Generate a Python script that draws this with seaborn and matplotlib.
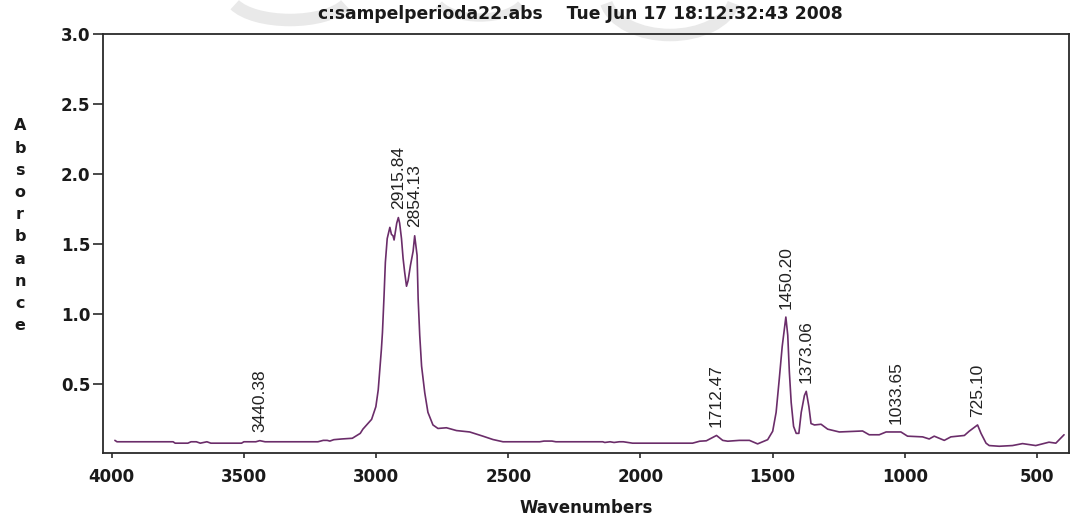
import numpy as np
import matplotlib
matplotlib.use("Agg")
import matplotlib.pyplot as plt
from matplotlib.patches import Arc
import seaborn as sns

# FTIR spectrum: wavenumber (cm^-1) and absorbance
wavenumber = [
    3988, 3980, 3768, 3760, 3712, 3700, 3680, 3665, 3640, 3625, 3509, 3500,
    3455, 3440, 3420, 3220, 3200, 3185, 3175, 3160, 3130, 3090, 3060, 3050,
    3017, 3001, 2992, 2986, 2980, 2976, 2970, 2965, 2958, 2948, 2942, 2936,
    2932, 2926, 2922, 2915.84, 2911, 2904, 2898, 2892, 2885, 2879, 2870, 2860,
    2854.13, 2845, 2841, 2835, 2828, 2816, 2804, 2785, 2766, 2734, 2696, 2646,
    2596, 2558, 2520, 2381, 2365, 2335, 2320, 2143, 2135, 2115, 2100, 2080,
    2065, 2030, 1803, 1776, 1751, 1712.47, 1689, 1670, 1626, 1588, 1557, 1519,
    1500, 1487, 1475, 1464, 1450.20, 1443, 1437, 1430, 1421, 1411, 1401, 1392,
    1380, 1373.06, 1363, 1355, 1342, 1317, 1292, 1248, 1185, 1160, 1135, 1097,
    1071, 1033.65, 1015, 990, 933, 908, 889, 851, 826, 775, 757, 725.10,
    712, 693, 681, 643, 593, 555, 505, 455, 429, 398,
]
absorbance = [
    0.100, 0.090, 0.090, 0.080, 0.080, 0.090, 0.090, 0.080, 0.090, 0.080, 0.080, 0.090,
    0.090, 0.098, 0.090, 0.090, 0.100, 0.100, 0.095, 0.105, 0.110, 0.115, 0.150, 0.180,
    0.250, 0.340, 0.460, 0.600, 0.750, 0.870, 1.130, 1.370, 1.540, 1.620, 1.570, 1.560,
    1.530, 1.600, 1.650, 1.690, 1.650, 1.540, 1.400, 1.300, 1.200, 1.240, 1.350, 1.450,
    1.560, 1.420, 1.110, 0.850, 0.630, 0.440, 0.300, 0.210, 0.185, 0.190, 0.170, 0.160,
    0.130, 0.106, 0.090, 0.090, 0.095, 0.095, 0.090, 0.090, 0.085, 0.090, 0.085, 0.090,
    0.090, 0.080, 0.080, 0.094, 0.097, 0.135, 0.100, 0.094, 0.100, 0.100, 0.075, 0.105,
    0.165, 0.300, 0.540, 0.770, 0.980, 0.850, 0.590, 0.370, 0.200, 0.150, 0.150, 0.300,
    0.420, 0.450, 0.340, 0.220, 0.210, 0.215, 0.180, 0.160, 0.165, 0.167, 0.140, 0.140,
    0.160, 0.160, 0.160, 0.130, 0.125, 0.110, 0.130, 0.100, 0.125, 0.135, 0.165, 0.210,
    0.150, 0.080, 0.063, 0.058, 0.063, 0.077, 0.063, 0.087, 0.080, 0.140,
]

# Peaks picked and labelled on the spectrum
peak_labels = ["3440.38", "2915.84", "2854.13", "1712.47", "1450.20",
               "1373.06", "1033.65", "725.10"]

x_ticks = [4000, 3500, 3000, 2500, 2000, 1500, 1000, 500]
y_ticks = [0.5, 1.0, 1.5, 2.0, 2.5, 3.0]

title_text = "c:sampelperioda22.abs    Tue Jun 17 18:12:32:43 2008"
x_label = "Wavenumbers"
y_label = "Absorbance"

sns.set_style("ticks")
plt.rcParams["font.family"] = ["DejaVu Sans"]

W, H = 1074, 519
fig = plt.figure(figsize=(W / 100, H / 100), dpi=100)

# faint page emblem behind the header (pixel geometry measured from the top)
for cx, cy_top, w, h, t1, t2, lw in [(290, -5, 120, 50, 200, 340, 9),
                                     (670, -5, 130, 80, 195, 345, 9),
                                     (480, -5, 90, 45, 205, 335, 6)]:
    fig.add_artist(Arc((cx / W, 1 - cy_top / H), w / W, h / H,
                       theta1=t1, theta2=t2, transform=fig.transFigure,
                       color="#e9e9e9", linewidth=lw, zorder=0))

ax = fig.add_axes([0.0959, 0.1272, 0.8995, 0.8073])
ax.patch.set_alpha(0)

line_color = "#6b2d6a"
sns.lineplot(x=wavenumber, y=absorbance, ax=ax, color=line_color,
             linewidth=1.2, sort=True, estimator=None)

ax.set_xlim(4033, 379)
ax.set_ylim(0.01, 3.0)
ax.set_xticks(x_ticks)
ax.set_xticklabels([str(t) for t in x_ticks])
ax.set_yticks(y_ticks)
ax.set_yticklabels([f"{t:.1f}" for t in y_ticks])

for side in ["left", "right", "top", "bottom"]:
    ax.spines[side].set_visible(True)
    ax.spines[side].set_color("#2a2a2a")
    ax.spines[side].set_linewidth(1.3)

ax.tick_params(axis="y", direction="out", length=7, width=1.2, pad=2,
               colors="#2a2a2a", labelsize=12, labelcolor="#1a1a1a")
ax.tick_params(axis="x", direction="out", length=3.5, width=1.2, pad=7,
               colors="#2a2a2a", labelsize=12, labelcolor="#1a1a1a")
for lab in ax.get_xticklabels() + ax.get_yticklabels():
    lab.set_fontweight("bold")

ax.set_xlabel("")
ax.set_ylabel("")

# Rotated peak annotations just above each peak
wn_arr = np.array(wavenumber, dtype=float)
ab_arr = np.array(absorbance, dtype=float)
order = np.argsort(wn_arr)
for lab in peak_labels:
    wn = float(lab)
    val = np.interp(wn, wn_arr[order], ab_arr[order])
    ax.annotate(lab, xy=(wn, val), xytext=(0, 6), textcoords="offset points",
                rotation=90, ha="center", va="bottom",
                fontsize=12.5, family="Liberation Sans", color="#222222")

fig.text(0.540, 0.955, title_text, ha="center", va="bottom",
         fontsize=12.3, fontweight="bold", color="#1a1a1a")

fig.text(0.546, 0.022, x_label, ha="center", va="center",
         fontsize=12, fontweight="bold", color="#1a1a1a")

# Vertical, letter-by-letter axis title
top_px, step_px = 126, 22.2
for i, ch in enumerate(y_label):
    fig.text(20 / W, 1 - (top_px + i * step_px) / H, ch,
             ha="center", va="center", fontsize=11.5, fontweight="bold",
             color="#1a1a1a")

fig.savefig("out.png", dpi=100, facecolor="white")
